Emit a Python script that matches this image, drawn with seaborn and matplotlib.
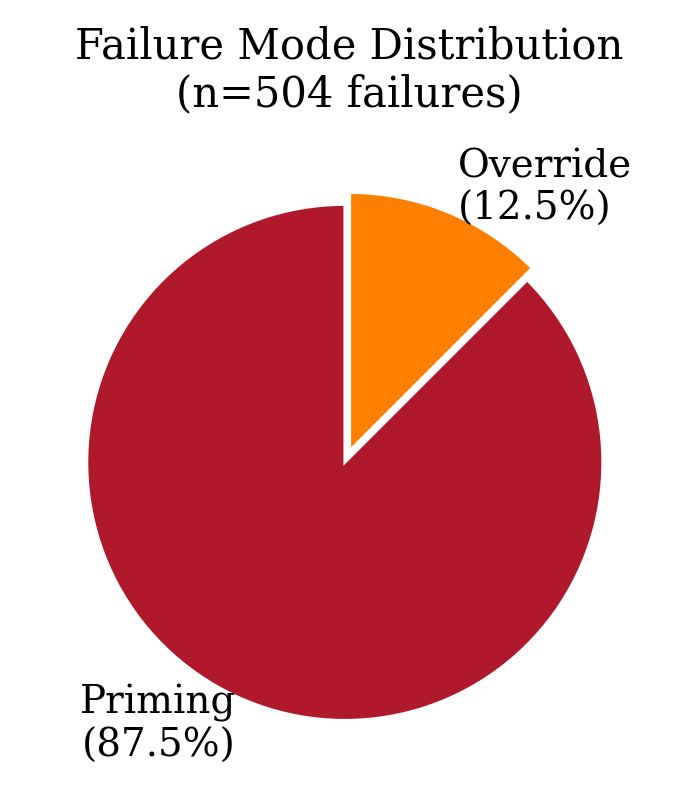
import matplotlib
matplotlib.use("Agg")
import matplotlib.pyplot as plt
import seaborn as sns

# Failure mode counts (n=504)
modes = ["Priming", "Override"]
counts = [441, 63]
colors = ["#B0182C", "#FF7F00"]
explode = [0, 0.05]

sns.set_theme(style="white")
plt.rcParams["font.family"] = ["DejaVu Serif"]

total = sum(counts)
labels = [f"{m}\n({c / total * 100:.1f}%)" for m, c in zip(modes, counts)]

fig = plt.figure(figsize=(6.98, 8), dpi=100)
ax = fig.add_axes([0.032, 0.019, 0.924, 0.806])
ax.pie(
    counts,
    labels=labels,
    colors=colors,
    explode=explode,
    startangle=90,
    labeldistance=1.1,
    wedgeprops=dict(edgecolor="white", linewidth=2),
    textprops=dict(fontsize=28, color="black"),
)
ax.set_aspect("equal")
fig.text(0.5, 0.912, f"Failure Mode Distribution\n(n={total} failures)",
         ha="center", va="center", fontsize=30, color="black")

plt.savefig("out.png", dpi=100)
